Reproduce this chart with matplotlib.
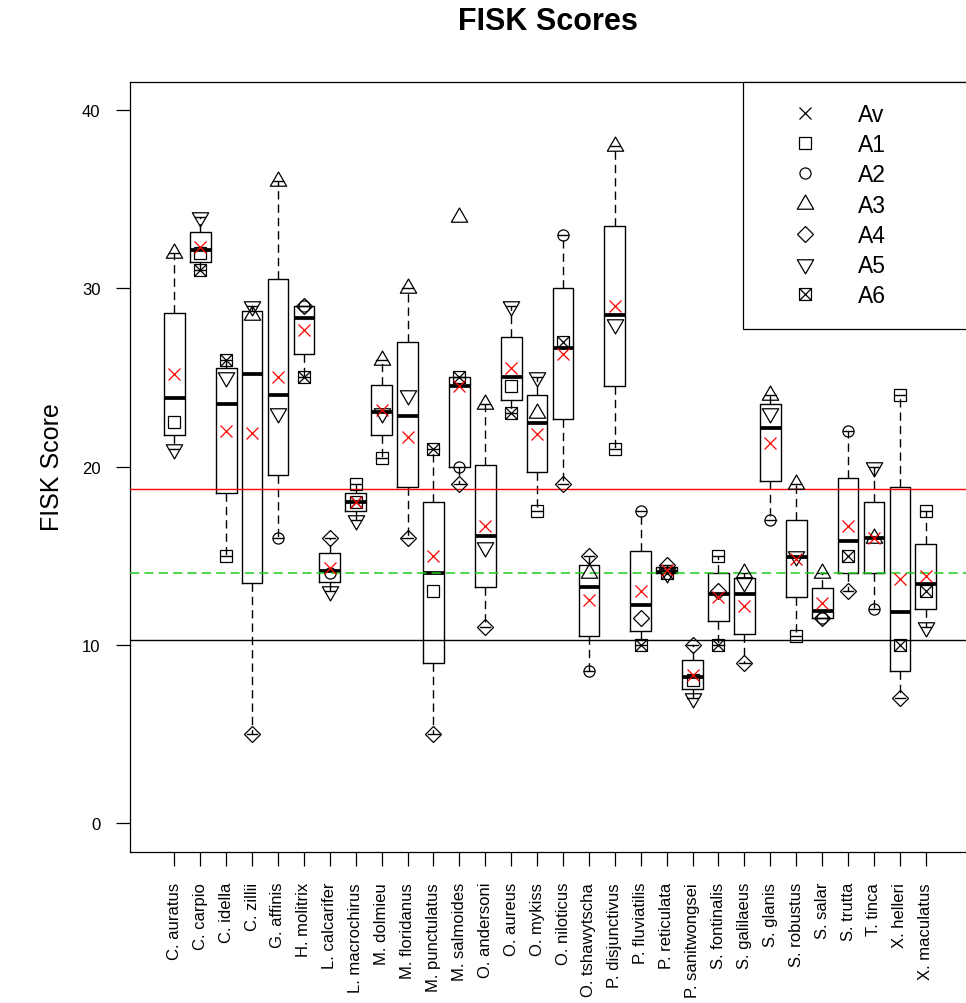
import numpy as np
import matplotlib
matplotlib.use("Agg")
import matplotlib.pyplot as plt
from matplotlib.path import Path
from matplotlib.lines import Line2D

plt.rcParams['font.family'] = ['Liberation Sans', 'DejaVu Sans']

nan = np.nan

species = ["C. auratus", "C. carpio", "C. idella", "C. zillii", "G. affinis",
           "H. molitrix", "L. calcarifer", "L. macrochirus", "M. dolmieu",
           "M. floridanus", "M. punctulatus", "M. salmoides", "O. andersoni",
           "O. aureus", "O. mykiss", "O. niloticus", "O. tshawytscha",
           "P. disjunctivus", "P. fluviatilis", "P. reticulata", "P. sanitwongsei",
           "S. fontinalis", "S. galilaeus", "S. glanis", "S. robustus", "S. salar",
           "S. trutta", "T. tinca", "X. helleri", "X. maculatus"]

# assessor scores (nan = not assessed)
a1 = [22.5, 32, 15, nan, nan, nan, nan, 19, 20.5, nan, 13, nan, nan, 24.5, 17.5,
      nan, nan, 21, nan, nan, 8, 15, nan, nan, 10.5, nan, nan, nan, 24, 17.5]
a2 = [nan, nan, nan, nan, 16, 29, 14, nan, nan, nan, nan, 20, nan, nan, nan,
      33, 8.5, nan, 17.5, nan, nan, nan, nan, 17, nan, 11.5, 22, 12, nan, nan]
a3 = [32, nan, nan, 28.5, 36, nan, nan, nan, 26, 30, nan, 34, 23.5, nan, 23,
      nan, 14, 38, nan, nan, nan, nan, 14, 24, 19, 14, nan, 16, nan, nan]
a4 = [nan, nan, nan, 5, nan, 29, 16, nan, nan, 16, 5, 19, 11, nan, nan,
      19, 15, nan, 11.5, 14.5, 10, 13, 9, nan, nan, 11.5, 13, nan, 7, nan]
a5 = [21, 34, 25, 29, 23, nan, 13, 17, 23, 24, nan, nan, 15.5, 29, 25,
      nan, nan, 28, nan, 14, 7, nan, 13.5, 23, 15, nan, nan, 20, nan, 11]
a6 = [nan, 31, 26, nan, nan, 25, nan, 18, nan, nan, 21, 25, nan, 23, nan,
      27, nan, nan, 10, 14, nan, 10, nan, nan, nan, nan, 15, nan, 10, 13]
av = [25.17, 32.33, 22, 21.9, 25, 27.67, 14.33, 18, 23.17, 21.67, 15, 24.5, 16.67,
      25.5, 21.83, 26.33, 12.5, 29, 13, 14.17, 8.33, 12.67, 12.17, 21.33, 14.83,
      12.33, 16.67, 16, 13.67, 13.83]

thresholds = [18.75, 14, 10.25]


def fivenum(x):
    x = np.sort(x)
    n = len(x)
    n4 = np.floor((n + 3) / 2) / 2
    d = np.array([1, n4, (n + 1) / 2, n + 1 - n4, n]) - 1
    return 0.5 * (x[np.floor(d).astype(int)] + x[np.ceil(d).astype(int)])


stats = []
for i in range(len(species)):
    vals = np.array([a1[i], a2[i], a3[i], a4[i], a5[i], a6[i], av[i]], dtype=float)
    vals = vals[~np.isnan(vals)]
    lo, q1, med, q3, hi = fivenum(vals)
    iqr = q3 - q1
    inside = vals[(vals >= q1 - 1.5 * iqr) & (vals <= q3 + 1.5 * iqr)]
    stats.append(dict(med=med, q1=q1, q3=q3, whislo=inside.min(),
                      whishi=inside.max(), fliers=[]))

# R style markers
s3 = np.sqrt(3) / 2
tri_up = Path([(0, 1.0), (-s3, -0.5), (s3, -0.5), (0, 1.0)], closed=True)
tri_down = Path([(0, -1.0), (-s3, 0.5), (s3, 0.5), (0, -1.0)], closed=True)
boxed_x = Path([(-1, -1), (1, -1), (1, 1), (-1, 1), (-1, -1),
                (-1, -1), (1, 1), (-1, 1), (1, -1)],
               [Path.MOVETO, Path.LINETO, Path.LINETO, Path.LINETO, Path.CLOSEPOLY,
                Path.MOVETO, Path.LINETO, Path.MOVETO, Path.LINETO])

series = [
    (a1, 's', 8.6, 'A1'),
    (a2, 'o', 8.0, 'A2'),
    (a3, tri_up, 13.6, 'A3'),
    (a4, 'D', 8.6, 'A4'),
    (a5, tri_down, 13.6, 'A5'),
    (a6, boxed_x, 8.6, 'A6'),
]

fig = plt.figure(figsize=(9.66, 10.04), dpi=100)
ax = fig.add_axes([130 / 966, 1 - 852.5 / 1004, 837 / 966, 770 / 1004])

pos = np.arange(1, len(species) + 1)
ax.bxp(stats, positions=pos, widths=0.8, showfliers=False, manage_ticks=False,
       boxprops=dict(color='black', linewidth=1.0),
       medianprops=dict(color='black', linewidth=2.7, solid_capstyle='butt'),
       whiskerprops=dict(color='black', linewidth=1.0, linestyle=(0, (6, 3.6))),
       capprops=dict(color='black', linewidth=1.0))

ax.axhline(thresholds[0], color='#FF0000', linewidth=1.0, zorder=3)
ax.axhline(thresholds[1], color='#1ECC1E', linewidth=1.1, linestyle=(0, (6, 3.4)), zorder=3)
ax.axhline(thresholds[2], color='black', linewidth=1.0, zorder=3)

handles = [Line2D([], [], ls='none', marker='x', ms=8.6, mew=0.9, color='black', label='Av')]
for vals, mk, ms, name in series:
    ax.plot(pos, vals, ls='none', marker=mk, ms=ms, mfc='none', mec='black',
            mew=0.9, zorder=4)
    handles.append(Line2D([], [], ls='none', marker=mk, ms=ms, mfc='none',
                          mec='black', mew=0.9, label=name))
ax.plot(pos, av, ls='none', marker='x', ms=8.6, mew=0.9, color='#FF0000', zorder=5)

ax.set_xlim(-0.71, 31.59)
ax.set_ylim(-1.6, 41.6)
ax.set_xticks(pos)
ax.set_xticklabels(species, rotation=90, va='top')
ax.set_yticks([0, 10, 20, 30, 40])
ax.tick_params(axis='both', direction='out', length=10.4, width=0.9, labelsize=12)
ax.tick_params(axis='x', pad=11.5)
ax.tick_params(axis='y', pad=10.8)
for sp in ax.spines.values():
    sp.set_linewidth(0.9)
ax.spines['right'].set_visible(False)

ax.set_ylabel('FISK Score', fontsize=18, labelpad=13)
fig.text(548 / 966, 1 - 22 / 1004, 'FISK Scores', fontsize=22, fontweight='bold',
         ha='center', va='center')

leg = ax.legend(handles=handles, loc='upper right', mode='expand',
                bbox_to_anchor=((743 - 130) / 837, 0, 1 - (743 - 130) / 837, 1),
                borderaxespad=0, fontsize=16.5, fancybox=False, framealpha=1,
                edgecolor='black', borderpad=0.95, labelspacing=0.31,
                handlelength=3.5, handletextpad=0.56, numpoints=1)
leg.get_frame().set_linewidth(0.9)

fig.savefig('out.png', dpi=100)
